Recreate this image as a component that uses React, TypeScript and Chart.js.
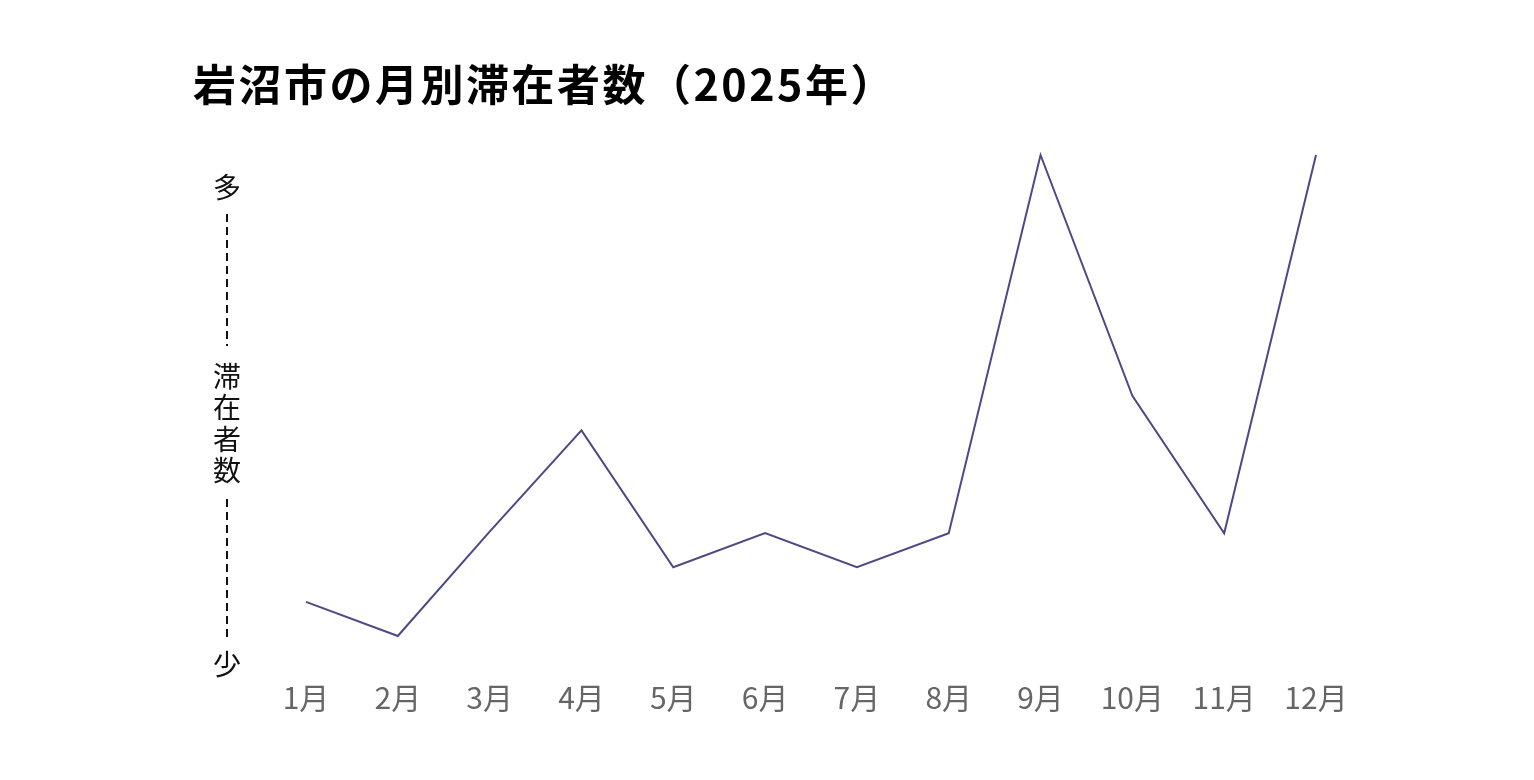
import React, { useEffect, useRef } from "react";
import { Chart, registerables } from "chart.js";

Chart.register(...registerables);

const months = ["1月", "2月", "3月", "4月", "5月", "6月", "7月", "8月", "9月", "10月", "11月", "12月"];
const visitors = [12.2, 5.5, 26, 45.9, 19, 25.7, 19, 25.7, 100, 52.7, 25.7, 100];
const titleText = "岩沼市の月別滞在者数（2025年）";
const axisHigh = "多";
const axisLow = "少";
const axisName = ["滞", "在", "者", "数"];

const annotations = {
  id: "annotations",
  afterDraw(chart: any) {
    const ctx = chart.ctx as CanvasRenderingContext2D;
    ctx.save();
    // title
    ctx.fillStyle = "#000";
    ctx.font = "bold 43px 'Noto Sans CJK JP'";
    (ctx as any).letterSpacing = "2.5px";
    ctx.textAlign = "left";
    ctx.textBaseline = "middle";
    ctx.fillText(titleText, 193, 85);
    (ctx as any).letterSpacing = "0px";

    // y axis annotation
    const x = 227;
    ctx.fillStyle = "#111";
    ctx.font = "28px 'Noto Sans CJK JP'";
    ctx.textAlign = "center";
    ctx.fillText(axisHigh, x, 187);
    axisName.forEach((c, i) => ctx.fillText(c, x, 376 + i * 31.5));
    ctx.fillText(axisLow, x, 664);
    ctx.strokeStyle = "#111";
    ctx.lineWidth = 2;
    ctx.setLineDash([8, 5]);
    ctx.beginPath();
    ctx.moveTo(x, 214);
    ctx.lineTo(x, 346);
    ctx.moveTo(x, 499);
    ctx.lineTo(x, 640);
    ctx.stroke();
    ctx.restore();
  },
};

export default function App() {
  const ref = useRef<HTMLCanvasElement | null>(null);
  useEffect(() => {
    document.body.style.margin = "0";
    const chart = new Chart(ref.current!, {
      type: "line",
      data: {
        labels: months,
        datasets: [
          {
            data: visitors,
            borderColor: "#4e4886",
            borderWidth: 2,
            pointRadius: 0,
            tension: 0,
            fill: false,
            clip: false as any,
          },
        ],
      },
      options: {
        animation: false,
        responsive: false,
        layout: { padding: { left: 306, right: 218, top: 155, bottom: 48 } },
        plugins: { legend: { display: false }, tooltip: { enabled: false }, title: { display: false } },
        scales: {
          x: {
            offset: false,
            grid: { display: false, drawTicks: false },
            border: { display: false },
            ticks: {
              color: "#666",
              font: { family: "'Noto Sans CJK JP'", size: 30 },
              padding: 16,
              maxRotation: 0,
              autoSkip: false,
            },
          },
          y: { display: false, min: 0, max: 100 },
        },
      },
      plugins: [annotations],
    });
    return () => chart.destroy();
  }, []);
  return <canvas ref={ref} width={1534} height={780} style={{ display: "block" }} />;
}
